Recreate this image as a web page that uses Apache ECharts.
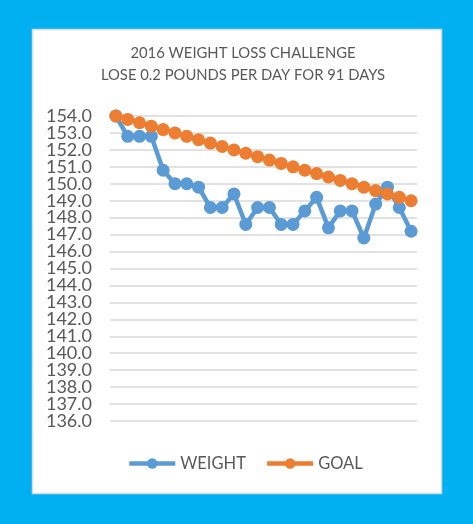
<!DOCTYPE html>
<html>
<head>
<meta charset="utf-8">
<script src="https://cdn.jsdelivr.net/npm/echarts@6/dist/echarts.min.js"></script>
<style>
html,body{margin:0;padding:0;background:#00b0f0;}
#c{width:473px;height:524px;}
</style>
</head>
<body>
<div id="c"></div>
<script>
const days = ['1','2','3','4','5','6','7','8','9','10','11','12','13','14','15','16','17','18','19','20','21','22','23','24','25','26'];
const weight = [154.0,152.8,152.8,152.8,150.8,150.0,150.0,149.8,148.6,148.6,149.4,147.6,148.6,148.6,147.6,147.6,148.4,149.2,147.4,148.4,148.4,146.8,148.8,149.8,148.6,147.2];
const goal = [154.0,153.8,153.6,153.4,153.2,153.0,152.8,152.6,152.4,152.2,152.0,151.8,151.6,151.4,151.2,151.0,150.8,150.6,150.4,150.2,150.0,149.8,149.6,149.4,149.2,149.0];
const titleLines = ['2016 WEIGHT LOSS CHALLENGE','LOSE 0.2 POUNDS PER DAY FOR 91 DAYS'];
const yMin = 136, yMax = 154;

const chart = echarts.init(document.getElementById('c'));
const font = 'Lato, "Liberation Sans", Arial, sans-serif';
const labelBase = {color:'#595959', fontSize:18, margin:18, fontFamily: font, hideOverlap:false};
chart.setOption({
  backgroundColor: '#00b0f0',
  animation: false,
  textStyle: {fontFamily: font},
  graphic: [
    {type:'rect', shape:{x:32.5,y:29.5,width:409,height:464}, style:{fill:'#ffffff', stroke:'#d9d9d9', lineWidth:1.5}, z:-10},
    {type:'text', x:243, y:53, style:{text:titleLines[0], textAlign:'center', textVerticalAlign:'middle', fill:'#595959', font:'14.8px Lato, "Liberation Sans", Arial, sans-serif'}},
    {type:'text', x:243, y:75, style:{text:titleLines[1], textAlign:'center', textVerticalAlign:'middle', fill:'#595959', font:'14.8px Lato, "Liberation Sans", Arial, sans-serif'}}
  ],
  legend: {
    data: ['WEIGHT','GOAL'],
    left: 127, top: 455, padding: 0,
    itemWidth: 46, itemHeight: 13, itemGap: 19,
    lineStyle: {width: 4.5},
    textStyle: {color:'#595959', fontSize:16.5, fontFamily: font}
  },
  grid: {left:110, right:56, top:116, bottom:103, containLabel:false},
  xAxis: {
    type:'category', data: days, boundaryGap:true,
    axisLine:{show:false}, axisTick:{show:false}, axisLabel:{show:false}, splitLine:{show:false}
  },
  yAxis: [
    {
      type:'value', min:yMin, max:yMax, interval:2, position:'left',
      axisLine:{show:false}, axisTick:{show:false},
      axisLabel:Object.assign({}, labelBase, {showMinLabel:true, showMaxLabel:true, formatter: v => v.toFixed(1)}),
      splitLine:{show:false}
    },
    {
      type:'value', min:yMin, max:yMax, interval:1, position:'left', offset:0,
      axisLine:{show:false}, axisTick:{show:false},
      axisLabel:Object.assign({}, labelBase, {showMinLabel:false, showMaxLabel:false, formatter: v => (Math.round(v) % 2 === 1 ? v.toFixed(1) : '')}),
      splitLine:{show:true, lineStyle:{color:'#d9d9d9', width:1.5}}
    }
  ],
  series: [
    {name:'WEIGHT', type:'line', data: weight, yAxisIndex:0, symbol:'circle', symbolSize:13, showSymbol:true, showAllSymbol:true,
     itemStyle:{color:'#5b9bd5'}, lineStyle:{color:'#5b9bd5', width:4.5}, z:2},
    {name:'GOAL', type:'line', data: goal, yAxisIndex:0, symbol:'circle', symbolSize:13, showSymbol:true, showAllSymbol:true,
     itemStyle:{color:'#ed7d31'}, lineStyle:{color:'#ed7d31', width:4.5}, z:3}
  ]
});
</script>
</body>
</html>
